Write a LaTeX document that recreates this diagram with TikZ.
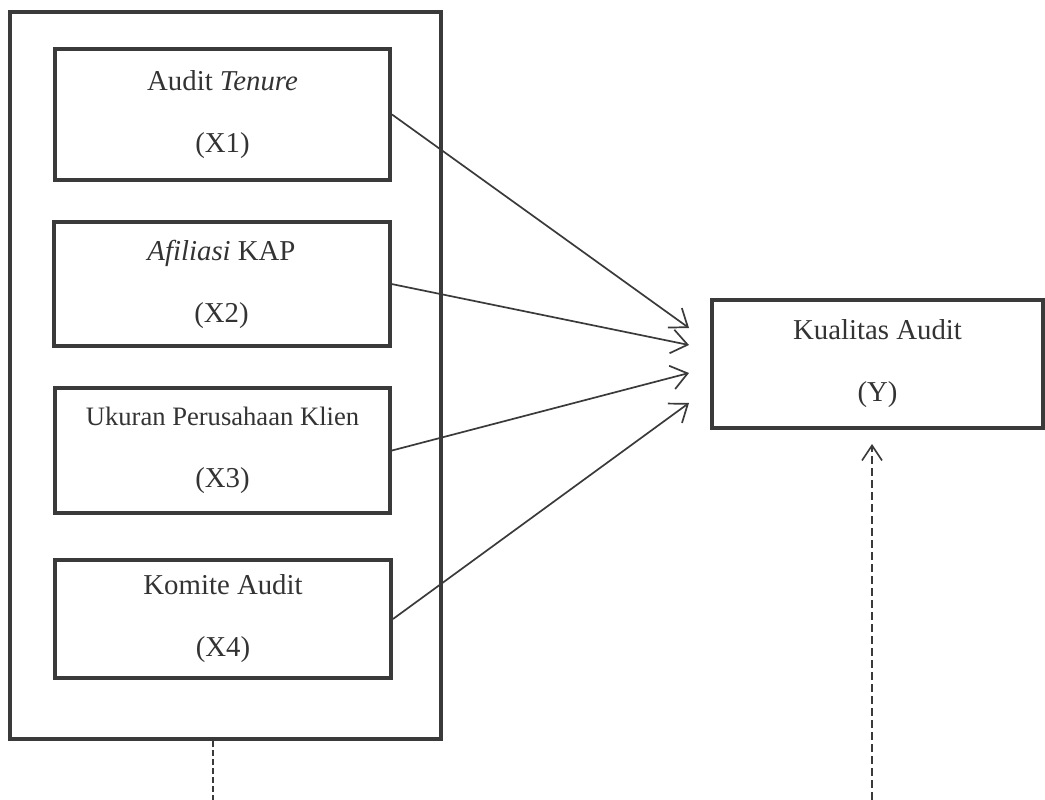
\documentclass[tikz,border=0pt]{standalone}
\usepackage{fontspec}
\setmainfont{Liberation Serif}
\usetikzlibrary{arrows.meta}
\definecolor{ink}{HTML}{3A3A3A}
\definecolor{txt}{HTML}{333333}
\tikzset{
  box/.style={draw=ink, line width=4pt, rectangle, inner sep=0pt, align=center,
    text=txt, font=\fontsize{28.8}{62}\selectfont},
  outerbox/.style={draw=ink, line width=4pt},
  conn/.style={draw=ink, line width=1.7pt, -{Straight Barb[length=16pt,width=24pt,line width=1.7pt]}},
  dashline/.style={draw=ink, line width=1.4pt, dash pattern=on 6pt off 3pt},
  dasharrow/.style={draw=ink, line width=1.6pt, dash pattern=on 8pt off 4pt,
    -{Straight Barb[length=15pt,width=20pt,line width=1.6pt]}},
}
\begin{document}
\begin{tikzpicture}[x=1pt,y=-1pt]
\useasboundingbox (0,0) rectangle (1045,800);
\node[outerbox, minimum width=431pt, minimum height=727pt, inner sep=0pt] (outer) at (225.5,375.5) {};
\node[box, minimum width=335pt, minimum height=131pt] (x1) at (222.5,114.5) {Audit \textit{Tenure}\\(X1)};
\node[box, minimum width=336pt, minimum height=124pt] (x2) at (221.5,284) {\textit{Afiliasi} KAP\\(X2)};
\node[box, minimum width=335pt, minimum height=125pt] (x3) at (222.5,450.5) {{\fontsize{26.6}{62}\selectfont Ukuran Perusahaan Klien}\\(X3)};
\node[box, minimum width=336pt, minimum height=118pt] (x4) at (223,619) {Komite Audit\\(X4)};
\node[box, minimum width=331pt, minimum height=128pt] (y) at (877.5,364) {Kualitas Audit\\(Y)};
\coordinate (t1) at (689,328);
\coordinate (t2) at (689,345);
\coordinate (t3) at (689,373);
\coordinate (t4) at (689,403);
\draw[conn] (x1.east) -- (t1);
\draw[conn] (x2.east) -- (t2);
\draw[conn] (x3.east) -- (t3);
\draw[conn] (x4.east) -- (t4);
\coordinate (d1) at (213,800);
\coordinate (d2) at (872,800);
\draw[dashline] (outer.south -| d1) -- (d1);
\draw[dasharrow, shorten >=14pt] (d2) -- (d2 |- y.south);
\end{tikzpicture}
\end{document}
